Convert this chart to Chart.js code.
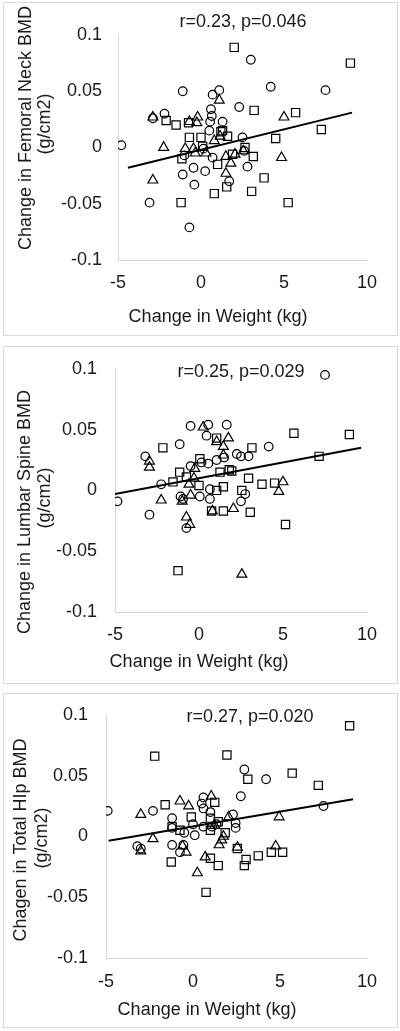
<!DOCTYPE html>
<html>
<head>
<meta charset="utf-8">
<script src="https://cdn.jsdelivr.net/npm/chart.js@4.4.1/dist/chart.umd.min.js"></script>
<style>
  body { margin: 0; background: #fff; width: 400px; height: 1031px; position: relative; overflow: hidden; }
  .box { position: absolute; left: 3px; width: 395px; border: 1px solid #d9d9d9; box-sizing: border-box; }
  .wrap { position: absolute; left: 0; width: 400px; }
</style>
</head>
<body>
<div class="box" style="top:2px;height:334px"></div>
<div class="box" style="top:346px;height:338px"></div>
<div class="box" style="top:693px;height:335px"></div>
<div class="wrap" style="top:0;height:340px"><canvas id="neck"></canvas></div>
<div class="wrap" style="top:340px;height:346px"><canvas id="spine"></canvas></div>
<div class="wrap" style="top:686px;height:345px"><canvas id="hip"></canvas></div>
<script>
// shared axes
const xTickValues = [-5, 0, 5, 10];
const xTickLabels = ['-5', '0', '5', '10'];
const yTickValues = [-0.1, -0.05, 0, 0.05, 0.1];
const yTickLabels = ['-0.1', '-0.05', '0', '0.05', '0.1'];
const xTitle = 'Change in Weight (kg)';

// Femoral neck panel
const neckCircles = [[-4.8,0.002],[3.0,0.078],[-1.1,0.050],[0.7,0.047],[1.1,0.051],[4.2,0.054],[7.5,0.051],[-2.9,0.026],[-2.2,0.030],[0.6,0.034],[0.65,0.028],[2.3,0.036],[0.55,0.023],[1.3,0.023],[0.5,0.015],[2.5,0.009],[0.15,-0.001],[0.7,-0.009],[-1.0,-0.007],[-0.45,-0.018],[0.25,-0.021],[-1.1,-0.024],[-0.4,-0.033],[1.7,-0.030],[2.8,-0.017],[-3.1,-0.049],[-0.7,-0.071],[2.6,-0.003]];
const neckSquares = [[2.0,0.089],[9.0,0.075],[3.2,0.033],[5.7,0.031],[7.25,0.016],[4.5,0.008],[-2.1,0.024],[-1.5,0.020],[-0.75,0.022],[-0.7,0.009],[0.0,0.009],[1.2,0.014],[1.3,0.015],[1.6,0.010],[-1.15,-0.010],[0.1,0.001],[1.0,-0.015],[1.9,-0.006],[2.65,0.000],[3.15,-0.008],[3.8,-0.027],[0.8,-0.041],[1.55,-0.035],[3.05,-0.039],[-1.2,-0.049],[5.25,-0.049]];
const neckTriangles = [[1.1,0.042],[-2.9,0.027],[-0.7,0.023],[-0.2,0.027],[-0.25,0.022],[5.0,0.027],[0.8,0.006],[1.15,0.010],[-2.25,0.000],[-0.95,-0.001],[-0.45,-0.001],[-0.35,-0.005],[0.3,-0.005],[1.5,-0.008],[1.8,-0.014],[2.05,-0.006],[2.55,-0.003],[4.85,-0.009],[1.5,-0.023],[-2.9,-0.029]];
const neckFit = [[-4.4,-0.018],[9.1,0.031]];

// Lumbar spine panel
const spineCircles = [[7.5,0.095],[-0.5,0.053],[0.55,0.054],[1.65,0.054],[0.45,0.045],[-1.15,0.038],[-3.2,0.028],[4.15,0.036],[2.25,0.030],[2.5,0.028],[2.95,0.028],[1.05,0.025],[0.15,0.023],[0.55,0.022],[-0.5,0.020],[-2.25,0.005],[-4.85,-0.009],[-2.95,-0.020],[0.05,-0.005],[0.65,0.001],[0.65,-0.007],[-1.1,-0.005],[-0.95,-0.007],[2.5,-0.009],[2.75,-0.003],[-0.75,-0.031],[1.5,0.027]];
const spineSquares = [[5.65,0.047],[8.95,0.046],[-2.15,0.035],[1.05,0.043],[3.15,0.035],[7.15,0.028],[0.05,0.026],[-1.15,0.015],[-1.55,0.007],[-0.75,0.011],[1.25,0.015],[1.8,0.017],[1.95,0.016],[0.0,0.004],[2.95,0.010],[3.75,0.005],[4.5,0.006],[1.05,0.000],[1.45,0.003],[2.55,0.000],[0.75,-0.017],[1.45,-0.017],[3.05,-0.018],[5.15,-0.028],[-1.25,-0.066]];
const spineTriangles = [[0.25,0.052],[1.05,0.040],[1.75,0.043],[1.45,0.036],[1.45,0.029],[-2.95,0.024],[-2.95,0.019],[-0.25,0.018],[-0.3,0.010],[-0.6,0.005],[5.0,0.007],[4.75,-0.001],[-2.25,-0.008],[-1.0,-0.009],[-0.5,-0.004],[0.8,-0.017],[2.05,-0.015],[-0.75,-0.022],[-0.55,-0.028],[2.55,-0.069]];
const spineFit = [[-5,-0.003],[9.65,0.035]];

// Total hip panel
const hipCircles = [[-4.9,0.021],[-2.3,0.021],[-1.2,0.015],[2.95,0.055],[4.2,0.047],[2.75,0.033],[7.5,0.025],[0.6,0.032],[0.5,0.027],[0.6,0.023],[1.0,0.020],[2.3,0.018],[2.45,0.011],[2.45,0.007],[0.0,0.010],[0.6,0.008],[1.35,0.010],[-1.2,0.007],[-0.5,0.003],[0.1,0.001],[-3.2,-0.008],[-3.0,-0.010],[-1.2,-0.007],[-0.55,-0.007],[-0.75,-0.013],[1.1,0.008]];
const hipSquares = [[9.0,0.091],[-2.2,0.066],[1.95,0.067],[5.7,0.052],[3.15,0.047],[7.2,0.042],[-1.6,0.026],[1.25,0.028],[-0.1,0.016],[1.0,0.015],[1.45,0.012],[-1.2,0.008],[-0.75,0.005],[1.0,0.005],[1.85,0.003],[2.55,-0.010],[-1.25,-0.021],[1.0,-0.018],[1.45,-0.024],[3.05,-0.019],[2.95,-0.024],[3.75,-0.016],[4.5,-0.013],[5.15,-0.013],[0.75,-0.046]];
const hipTriangles = [[-3.0,0.018],[-0.75,0.029],[-0.25,0.025],[1.05,0.033],[4.95,0.016],[2.05,0.016],[-2.3,-0.002],[-3.0,-0.012],[-0.4,-0.013],[-0.6,-0.008],[1.5,-0.007],[1.65,-0.003],[1.75,0.000],[2.55,-0.009],[4.75,-0.008],[0.7,-0.017],[0.25,-0.030],[1.25,0.009]];
const hipFit = [[-4.85,-0.0035],[9.2,0.0305]];

const FONT = '"Liberation Sans", Arial, sans-serif';
const INK = '#1a1a1a';
Chart.defaults.font.family = FONT;
Chart.defaults.font.size = 18;
Chart.defaults.color = INK;

const toXY = pts => pts.map(([x, y]) => ({ x, y }));

// r/p label, x title and two-line rotated y title (placed like the original, not centred on the plot)
const panelText = {
  id: 'panelText',
  afterDraw(chart, args, o) {
    const ctx = chart.ctx;
    ctx.save();
    ctx.font = '18px ' + FONT;
    ctx.fillStyle = INK;
    ctx.textAlign = 'center';
    ctx.textBaseline = 'middle';
    ctx.fillText(o.stat, o.statX, o.statY);
    ctx.fillText(xTitle, o.xTitleX, o.xTitleY);
    o.yTitle.forEach((line, i) => {
      ctx.save();
      ctx.translate(o.yTitleX[i], o.yTitleY[i]);
      ctx.rotate(-Math.PI / 2);
      ctx.fillText(line, 0, 0);
      ctx.restore();
    });
    ctx.restore();
  }
};

function marks(pts, style, r) {
  return {
    data: toXY(pts),
    pointStyle: style,
    pointRadius: r,
    borderColor: '#000',
    backgroundColor: 'rgba(0,0,0,0)',
    borderWidth: 1.2
  };
}

function makeChart(id, p) {
  new Chart(document.getElementById(id), {
    type: 'scatter',
    data: {
      datasets: [
        { data: toXY(p.fit), showLine: true, pointRadius: 0, borderColor: '#000', borderWidth: 2 },
        marks(p.circles, 'circle', 4.3),
        marks(p.squares, 'rect', 5.8),
        marks(p.triangles, 'triangle', 5.7)
      ]
    },
    options: {
      responsive: true,
      maintainAspectRatio: false,
      animation: false,
      events: [],
      layout: { padding: { left: 0, right: p.padRight, top: p.padTop, bottom: 0 } },
      plugins: {
        legend: { display: false },
        tooltip: { enabled: false },
        panelText: p.text
      },
      scales: {
        x: {
          min: -5, max: 10,
          grid: { display: false, drawTicks: false },
          border: { display: true, color: '#d9d9d9', width: 1 },
          afterBuildTicks: s => { s.ticks = xTickValues.map(v => ({ value: v })); },
          afterFit: s => { s.height = p.xHeight; },
          ticks: { padding: p.xTickPad, maxRotation: 0, callback: (v, i) => xTickLabels[i] }
        },
        y: {
          min: -0.1, max: 0.1,
          grid: { display: false, drawTicks: false },
          border: { display: true, color: '#d9d9d9', width: 1 },
          afterBuildTicks: s => { s.ticks = yTickValues.map(v => ({ value: v })); },
          afterFit: s => { s.width = p.yWidth; },
          ticks: { padding: p.yTickPad, callback: (v, i) => yTickLabels[i] }
        }
      }
    },
    plugins: [panelText]
  });
}

makeChart('neck', {
  circles: neckCircles, squares: neckSquares, triangles: neckTriangles, fit: neckFit,
  padRight: 33, padTop: 35, xHeight: 80, yWidth: 118, xTickPad: 12, yTickPad: 16,
  text: { stat: 'r=0.23, p=0.046', statX: 243, statY: 22, xTitleX: 218, xTitleY: 317,
          yTitle: ['Change in Femoral Neck BMD', '(g/cm2)'], yTitleX: [26, 45], yTitleY: [128, 124] }
});

makeChart('spine', {
  circles: spineCircles, squares: spineSquares, triangles: spineTriangles, fit: spineFit,
  padRight: 33, padTop: 26, xHeight: 74, yWidth: 115, xTickPad: 12, yTickPad: 18,
  text: { stat: 'r=0.25, p=0.029', statX: 241, statY: 32, xTitleX: 199, xTitleY: 322,
          yTitle: ['Change in Lumbar Spine BMD', '(g/cm2)'], yTitleX: [25, 45], yTitleY: [172, 158] }
});

makeChart('hip', {
  circles: hipCircles, squares: hipSquares, triangles: hipTriangles, fit: hipFit,
  padRight: 33, padTop: 27, xHeight: 73, yWidth: 106, xTickPad: 13, yTickPad: 18,
  text: { stat: 'r=0.27, p=0.020', statX: 250, statY: 31, xTitleX: 207, xTitleY: 324,
          yTitle: ['Chagen in Total HIp BMD', '(g/cm2)'], yTitleX: [21, 42], yTitleY: [154, 152] }
});
</script>
</body>
</html>
